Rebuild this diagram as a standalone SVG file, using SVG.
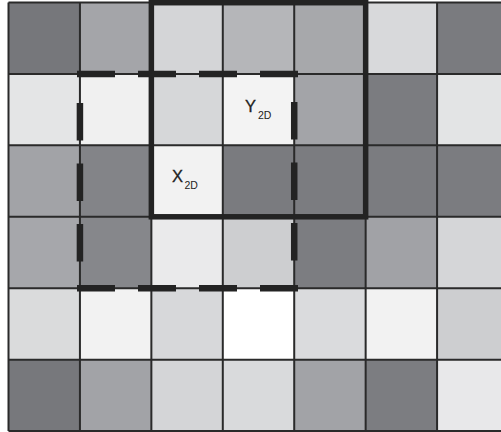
<svg xmlns="http://www.w3.org/2000/svg" width="501" height="432" viewBox="0 0 501 432">
<style>
.g{stroke:#2a2a2a;stroke-width:2;fill:none}
.solid{stroke:#232323;stroke-width:5.5;fill:none}
.dash{stroke:#232323;stroke-width:6.5;fill:none}
.t{font-family:"Liberation Sans",Arial,sans-serif;fill:#222222}
.m{stroke:#222222;stroke-width:0.3}
</style>
<rect x="0" y="0" width="501" height="432" fill="#ffffff"/>
<g id="cells">
<rect x="8.5" y="2.5" width="71.43" height="71.43" fill="#76777b"/>
<rect x="79.93" y="2.5" width="71.43" height="71.43" fill="#a4a5a9"/>
<rect x="151.36" y="2.5" width="71.43" height="71.43" fill="#d4d5d7"/>
<rect x="222.79" y="2.5" width="71.43" height="71.43" fill="#b5b6b9"/>
<rect x="294.22" y="2.5" width="71.43" height="71.43" fill="#a7a8ab"/>
<rect x="365.65" y="2.5" width="71.43" height="71.43" fill="#d8d9db"/>
<rect x="437.08" y="2.5" width="71.43" height="71.43" fill="#7a7b7f"/>
<rect x="8.5" y="73.93" width="71.43" height="71.43" fill="#e4e5e6"/>
<rect x="79.93" y="73.93" width="71.43" height="71.43" fill="#f0f0f0"/>
<rect x="151.36" y="73.93" width="71.43" height="71.43" fill="#d6d7d9"/>
<rect x="222.79" y="73.93" width="71.43" height="71.43" fill="#f3f3f3"/>
<rect x="294.22" y="73.93" width="71.43" height="71.43" fill="#a3a4a8"/>
<rect x="365.65" y="73.93" width="71.43" height="71.43" fill="#7b7c80"/>
<rect x="437.08" y="73.93" width="71.43" height="71.43" fill="#e3e4e5"/>
<rect x="8.5" y="145.36" width="71.43" height="71.43" fill="#a2a3a7"/>
<rect x="79.93" y="145.36" width="71.43" height="71.43" fill="#838488"/>
<rect x="151.36" y="145.36" width="71.43" height="71.43" fill="#f2f2f2"/>
<rect x="222.79" y="145.36" width="71.43" height="71.43" fill="#7a7b7f"/>
<rect x="294.22" y="145.36" width="71.43" height="71.43" fill="#7b7c80"/>
<rect x="365.65" y="145.36" width="71.43" height="71.43" fill="#7b7c80"/>
<rect x="437.08" y="145.36" width="71.43" height="71.43" fill="#7b7c80"/>
<rect x="8.5" y="216.79" width="71.43" height="71.43" fill="#a6a7ab"/>
<rect x="79.93" y="216.79" width="71.43" height="71.43" fill="#86878b"/>
<rect x="151.36" y="216.79" width="71.43" height="71.43" fill="#eaeaeb"/>
<rect x="222.79" y="216.79" width="71.43" height="71.43" fill="#cdced0"/>
<rect x="294.22" y="216.79" width="71.43" height="71.43" fill="#7c7d81"/>
<rect x="365.65" y="216.79" width="71.43" height="71.43" fill="#a1a2a6"/>
<rect x="437.08" y="216.79" width="71.43" height="71.43" fill="#d5d6d8"/>
<rect x="8.5" y="288.22" width="71.43" height="71.43" fill="#dadbdc"/>
<rect x="79.93" y="288.22" width="71.43" height="71.43" fill="#f2f2f2"/>
<rect x="151.36" y="288.22" width="71.43" height="71.43" fill="#d7d8da"/>
<rect x="222.79" y="288.22" width="71.43" height="71.43" fill="#ffffff"/>
<rect x="294.22" y="288.22" width="71.43" height="71.43" fill="#dadbdd"/>
<rect x="365.65" y="288.22" width="71.43" height="71.43" fill="#f2f2f2"/>
<rect x="437.08" y="288.22" width="71.43" height="71.43" fill="#cdced0"/>
<rect x="8.5" y="359.65" width="71.43" height="71.43" fill="#77787c"/>
<rect x="79.93" y="359.65" width="71.43" height="71.43" fill="#a2a3a7"/>
<rect x="151.36" y="359.65" width="71.43" height="71.43" fill="#d4d5d7"/>
<rect x="222.79" y="359.65" width="71.43" height="71.43" fill="#d9dadc"/>
<rect x="294.22" y="359.65" width="71.43" height="71.43" fill="#a2a3a7"/>
<rect x="365.65" y="359.65" width="71.43" height="71.43" fill="#7c7d81"/>
<rect x="437.08" y="359.65" width="71.43" height="71.43" fill="#e8e8ea"/>
</g>
<g id="grid" class="g">
<path d="M8.5 2.5V431M79.93 2.5V431M151.36 2.5V431M222.79 2.5V431M294.22 2.5V431M365.65 2.5V431M437.08 2.5V431"/>
<path d="M8.5 2.5H501M8.5 73.93H501M8.5 145.36H501M8.5 216.79H501M8.5 288.22H501M8.5 359.65H501M8.5 431H501"/>
</g>
<g id="solid-window">
<rect class="solid" x="151.36" y="2.7" width="214.29" height="214.09"/>
</g>
<g id="dashed-window" class="dash">
<line x1="77" y1="73.93" x2="298" y2="73.93" stroke-dasharray="38 23"/>
<line x1="77" y1="288.22" x2="298" y2="288.22" stroke-dasharray="38 23"/>
<line x1="79.93" y1="103" x2="79.93" y2="262" stroke-dasharray="37.5 23"/>
<line x1="294.22" y1="102" x2="294.22" y2="261" stroke-dasharray="37.5 23"/>
</g>
<g id="label-x">
<text class="t m" x="172" y="182" font-size="16.5">X</text>
<text class="t" x="184.5" y="189.3" font-size="10.5">2D</text>
</g>
<g id="label-y">
<text class="t m" x="245" y="112" font-size="16.5">Y</text>
<text class="t" x="258" y="119.3" font-size="10.5">2D</text>
</g>
</svg>
